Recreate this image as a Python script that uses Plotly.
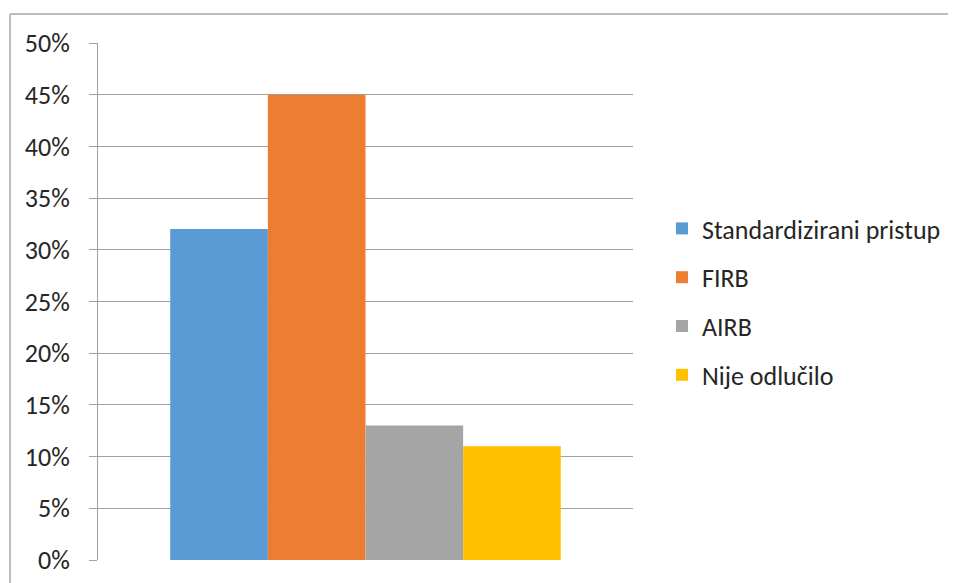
import plotly.graph_objects as go

categories = [""]
series_names = ["Standardizirani pristup", "FIRB", "AIRB", "Nije odlučilo"]
series_values = [[0.32], [0.45], [0.13], [0.11]]
colors = ["#5B9BD5", "#ED7D31", "#A5A5A5", "#FFC000"]
tick_vals = [0, 0.05, 0.10, 0.15, 0.20, 0.25, 0.30, 0.35, 0.40, 0.45, 0.50]
tick_text = ["0%", "5%", "10%", "15%", "20%", "25%", "30%", "35%", "40%", "45%", "50%"]

FONT = "Carlito, Open Sans, Liberation Sans, sans-serif"
FS = 26

fig = go.Figure()
for i, (name, vals) in enumerate(zip(series_names, series_values)):
    fig.add_trace(go.Bar(
        x=categories, y=vals, name=name, marker_color=colors[i],
        marker_line_width=0, legendgroup=f"g{i}",
    ))

# page body has an 8px margin; compensate
OFF = 8
W, H = 956 - OFF, 583 - OFF
L, R, T, B = 98 - OFF, 956 - 633, 43 - OFF, 583 - 560
pw = W - L - R
ph = H - T - B

fig.update_layout(
    width=W, height=H,
    margin=dict(l=L, r=R, t=T, b=B, autoexpand=False),
    paper_bgcolor="white", plot_bgcolor="white",
    barmode="group", bargap=0.27, bargroupgap=0,
    font=dict(family=FONT, size=FS, color="#262626"),
    showlegend=True,
    legend=dict(
        x=1.0 + 29 / pw, xanchor="left", xref="paper",
        y=(560 - 302) / ph, yanchor="middle",
        font=dict(family=FONT, size=FS, color="#262626"),
        tracegroupgap=12, itemwidth=30,
        bgcolor="rgba(0,0,0,0)",
    ),
    xaxis=dict(showticklabels=False, showgrid=False, zeroline=False,
               showline=False, ticks=""),
    yaxis=dict(range=[0, 0.5], tickvals=tick_vals, ticktext=tick_text,
               showgrid=True, gridcolor="#A0A0A0", gridwidth=1,
               zeroline=False, showline=True, linecolor="#A0A0A0", linewidth=1,
               ticks="outside", ticklen=8, tickcolor="#A0A0A0",
               ticklabelstandoff=14,
               tickfont=dict(family=FONT, size=FS, color="#262626")),
)

# outer chart border: top and left lines (paper coords relative to plot area)
x0 = (10 - OFF - L) / pw
x1 = (W - L) / pw
ytop = (H - B - (14 - OFF)) / ph
ybot = (-B) / ph
fig.add_shape(type="line", xref="paper", yref="paper", x0=x0, x1=x1, y0=ytop, y1=ytop,
              line=dict(color="#A6A6A6", width=1.5))
fig.add_shape(type="line", xref="paper", yref="paper", x0=x0, x1=x0, y0=ytop, y1=ybot,
              line=dict(color="#A6A6A6", width=1.5))

fig.write_html("out.html")
